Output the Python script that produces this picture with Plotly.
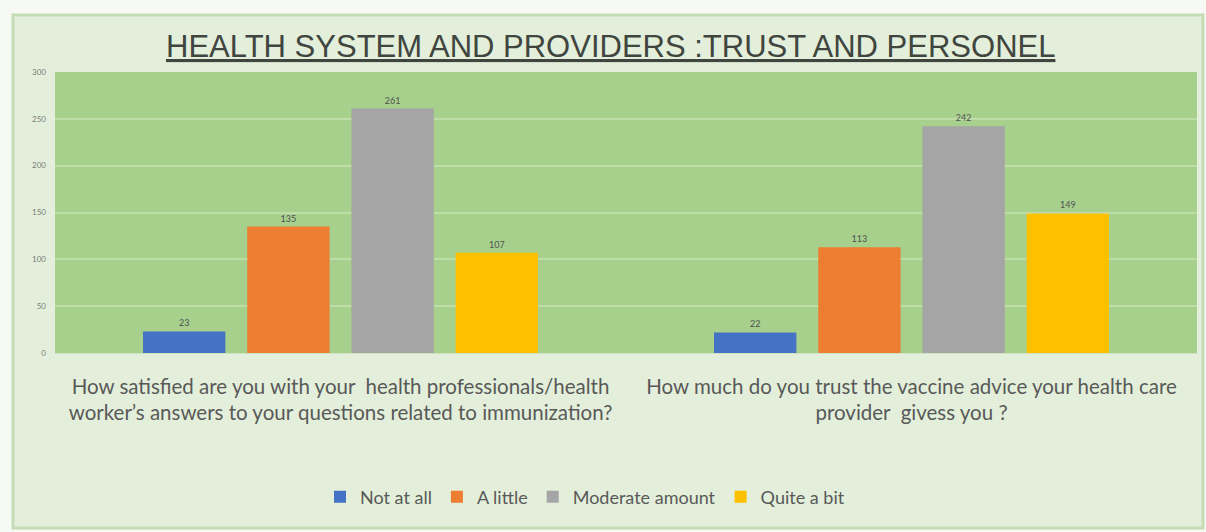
import plotly.graph_objects as go

# Survey responses per question
questions = [
    "How satisfied are you with your  health professionals/health<br>worker’s answers to your questions related to immunization?",
    "How much do you trust the vaccine advice your health care<br>provider  givess you ?",
]
series_names = ["Not at all", "A little", "Moderate amount", "Quite a bit"]
not_at_all = [23, 22]
a_little = [135, 113]
moderate_amount = [261, 242]
quite_a_bit = [107, 149]
y_ticks = [0, 50, 100, 150, 200, 250, 300]

series_values = [not_at_all, a_little, moderate_amount, quite_a_bit]
colors = ["#4472c4", "#ed7d31", "#a5a5a5", "#ffc000"]

W, H = 1206, 532
L, R, T, B = 55, 9, 72, 179
PW, PH = W - L - R, H - T - B


def px_x(p):
    return (p - L) / PW


def px_y(p):
    return (H - B - p) / PH


fig = go.Figure()
for name, vals, col in zip(series_names, series_values, colors):
    fig.add_trace(go.Bar(
        name=name,
        x=[0, 1],
        y=vals,
        marker=dict(color=col, line=dict(width=0)),
        text=[str(v) for v in vals],
        textposition="outside",
        textfont=dict(size=9, color="#505050", family="Lato"),
        cliponaxis=False,
    ))

fig.update_layout(
    width=W, height=H,
    margin=dict(l=L, r=R, t=T, b=B, pad=0),
    paper_bgcolor="#f7faf4",
    plot_bgcolor="#a8d08d",
    barmode="group",
    bargap=0.27,
    bargroupgap=0.21,
    font=dict(family="Lato", color="#595959"),
    showlegend=True,
    legend=dict(
        orientation="h",
        x=px_x(585), xanchor="center",
        y=px_y(497), yanchor="middle",
        font=dict(size=18, color="#595959", family="Lato"),
        bgcolor="rgba(0,0,0,0)",
        itemwidth=30,
        tracegroupgap=0,
    ),
    xaxis=dict(
        tickmode="array",
        tickvals=[0, 1],
        ticktext=questions,
        range=[-0.5, 1.5],
        tickfont=dict(size=20.5, color="#595959", family="Lato"),
        ticklabelstandoff=15,
        showgrid=False,
        showline=True,
        linecolor="#cfe3c2",
        linewidth=1,
        zeroline=False,
    ),
    yaxis=dict(
        range=[0, 300],
        tickvals=y_ticks,
        tickfont=dict(size=8, color="#7a7a7a", family="Lato"),
        showgrid=True,
        gridcolor="#bfdda8",
        gridwidth=1.5,
        zeroline=False,
        showline=False,
        ticklabelstandoff=8,
    ),
    shapes=[
        # outer framed panel
        dict(
            type="rect", xref="paper", yref="paper", layer="below",
            x0=px_x(13), x1=px_x(1203), y0=px_y(528), y1=px_y(15),
            fillcolor="#e3efda",
            line=dict(color="#c6dcb6", width=3),
        ),
        # plotting area fill
        dict(
            type="rect", xref="paper", yref="paper", layer="below",
            x0=0, x1=1, y0=0, y1=1,
            fillcolor="#a8d08d",
            line=dict(width=0),
        ),
    ],
    annotations=[
        dict(
            text="<u>HEALTH SYSTEM AND PROVIDERS :TRUST AND PERSONEL</u>",
            xref="paper", yref="paper",
            x=px_x(610), y=px_y(46),
            xanchor="center", yanchor="middle",
            showarrow=False,
            font=dict(size=31, color="#404540", family="Liberation Sans"),
        ),
    ],
)

fig.write_html("out.html")
